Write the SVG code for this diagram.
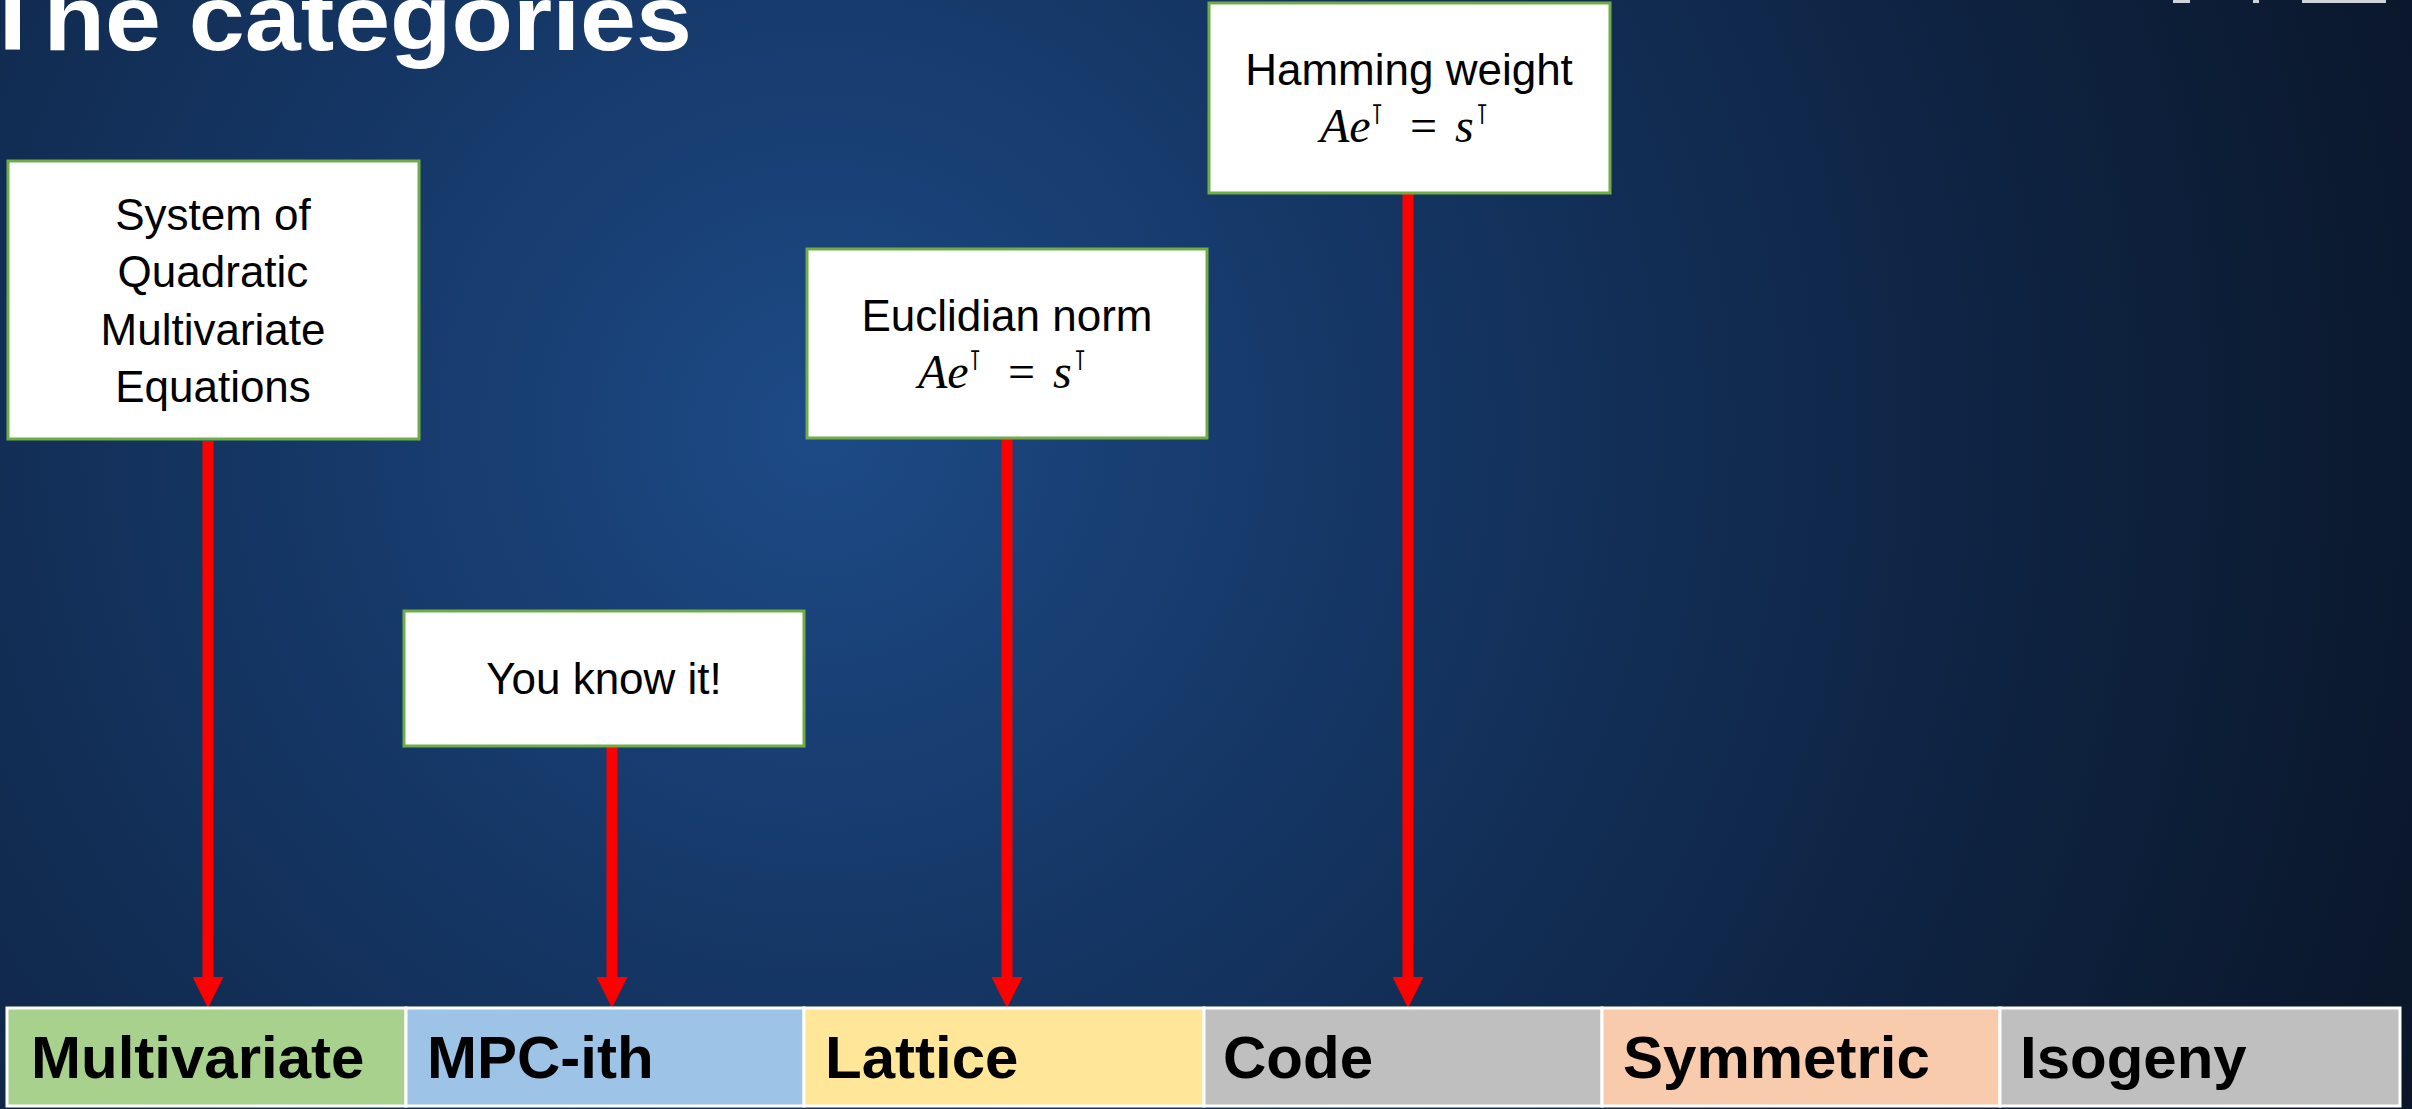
<svg xmlns="http://www.w3.org/2000/svg" width="2412" height="1109" viewBox="0 0 2412 1109">
  <defs>
    <radialGradient id="bg" gradientUnits="userSpaceOnUse" cx="820" cy="430" r="1750">
      <stop offset="0" stop-color="#1d4a86"/>
      <stop offset="0.3" stop-color="#153766"/>
      <stop offset="0.62" stop-color="#0f2647"/>
      <stop offset="1" stop-color="#0a1527"/>
    </radialGradient>
    <marker id="head" viewBox="0 0 31 31" markerWidth="31" markerHeight="31" markerUnits="userSpaceOnUse" refX="0" refY="15.5" orient="auto">
      <path d="M0,0 L31,15.5 L0,31 Z" fill="#ff0000"/>
    </marker>
    <style>
      .box { fill: #ffffff; stroke: #70ad47; stroke-width: 3; }
      .lbl { font-family: "Liberation Sans", Arial, sans-serif; font-size: 44px; fill: #000000; text-anchor: middle; }
      .eq { font-family: "Liberation Serif", "Times New Roman", serif; font-size: 48px; fill: #000000; }
      .it { font-style: italic; }
      .sup { font-family: "DejaVu Sans", sans-serif; font-size: 28px; }
      .cell { stroke: #ffffff; stroke-width: 3; }
      .cat { font-family: "Liberation Sans", Arial, sans-serif; font-weight: bold; font-size: 60px; fill: #000000; }
      .arrow { stroke: #ff0000; stroke-width: 11; fill: none; marker-end: url(#head); }
      .title { font-family: "Liberation Sans", Arial, sans-serif; font-weight: bold; font-size: 92px; fill: #ffffff; }
    </style>
  </defs>

  <!-- slide background -->
  <rect x="0" y="0" width="2412" height="1109" fill="url(#bg)"/>

  <!-- title, partly above the top edge -->
  <text class="title" x="-18" y="50" textLength="710" lengthAdjust="spacingAndGlyphs">The categories</text>

  <!-- logo fragments at the top edge -->
  <g id="logo-edge" fill="#d0d4da">
    <rect x="2173" y="0" width="17" height="3"/>
    <rect x="2253" y="0" width="6" height="3"/>
    <rect x="2302" y="0" width="84" height="3"/>
  </g>

  <!-- connectors -->
  <g id="connectors">
    <line class="arrow" x1="208" y1="441" x2="208" y2="977"/>
    <line class="arrow" x1="612" y1="747" x2="612" y2="977"/>
    <line class="arrow" x1="1007" y1="439" x2="1007" y2="977"/>
    <line class="arrow" x1="1408" y1="194" x2="1408" y2="977"/>
  </g>

  <!-- annotation boxes -->
  <g id="box-mq">
    <rect class="box" x="8" y="161" width="411" height="278"/>
    <text class="lbl" x="213" y="230">System of</text>
    <text class="lbl" x="213" y="287">Quadratic</text>
    <text class="lbl" x="213" y="345">Multivariate</text>
    <text class="lbl" x="213" y="402">Equations</text>
  </g>

  <g id="box-mpc">
    <rect class="box" x="404" y="611" width="400" height="135"/>
    <text class="lbl" x="604" y="694">You know it!</text>
  </g>

  <g id="box-lattice">
    <rect class="box" x="807" y="249" width="400" height="189"/>
    <text class="lbl" x="1007" y="331">Euclidian norm</text>
    <text class="eq" y="388"><tspan class="it" x="918">Ae</tspan><tspan class="sup" x="968" dy="-18">⊺</tspan><tspan x="1008" dy="18">=</tspan><tspan class="it" x="1053">s</tspan><tspan class="sup" x="1073" dy="-18">⊺</tspan></text>
  </g>

  <g id="box-code">
    <rect class="box" x="1209" y="3" width="401" height="190"/>
    <text class="lbl" x="1409" y="85">Hamming weight</text>
    <text class="eq" y="142"><tspan class="it" x="1320">Ae</tspan><tspan class="sup" x="1370" dy="-18">⊺</tspan><tspan x="1410" dy="18">=</tspan><tspan class="it" x="1455">s</tspan><tspan class="sup" x="1475" dy="-18">⊺</tspan></text>
  </g>

  <!-- category strip -->
  <g id="cat-multivariate">
    <rect class="cell" x="7" y="1008" width="399" height="98" fill="#a9d18e"/>
    <text class="cat" x="31" y="1078">Multivariate</text>
  </g>
  <g id="cat-mpc">
    <rect class="cell" x="406" y="1008" width="398" height="98" fill="#9dc3e6"/>
    <text class="cat" x="427" y="1078">MPC-ith</text>
  </g>
  <g id="cat-lattice">
    <rect class="cell" x="804" y="1008" width="400" height="98" fill="#ffe699"/>
    <text class="cat" x="825" y="1078">Lattice</text>
  </g>
  <g id="cat-code">
    <rect class="cell" x="1204" y="1008" width="398" height="98" fill="#bfbfbf"/>
    <text class="cat" x="1223" y="1078">Code</text>
  </g>
  <g id="cat-symmetric">
    <rect class="cell" x="1602" y="1008" width="398" height="98" fill="#f8cbad"/>
    <text class="cat" x="1623" y="1078">Symmetric</text>
  </g>
  <g id="cat-isogeny">
    <rect class="cell" x="2000" y="1008" width="400" height="98" fill="#bfbfbf"/>
    <text class="cat" x="2020" y="1078">Isogeny</text>
  </g>
</svg>
